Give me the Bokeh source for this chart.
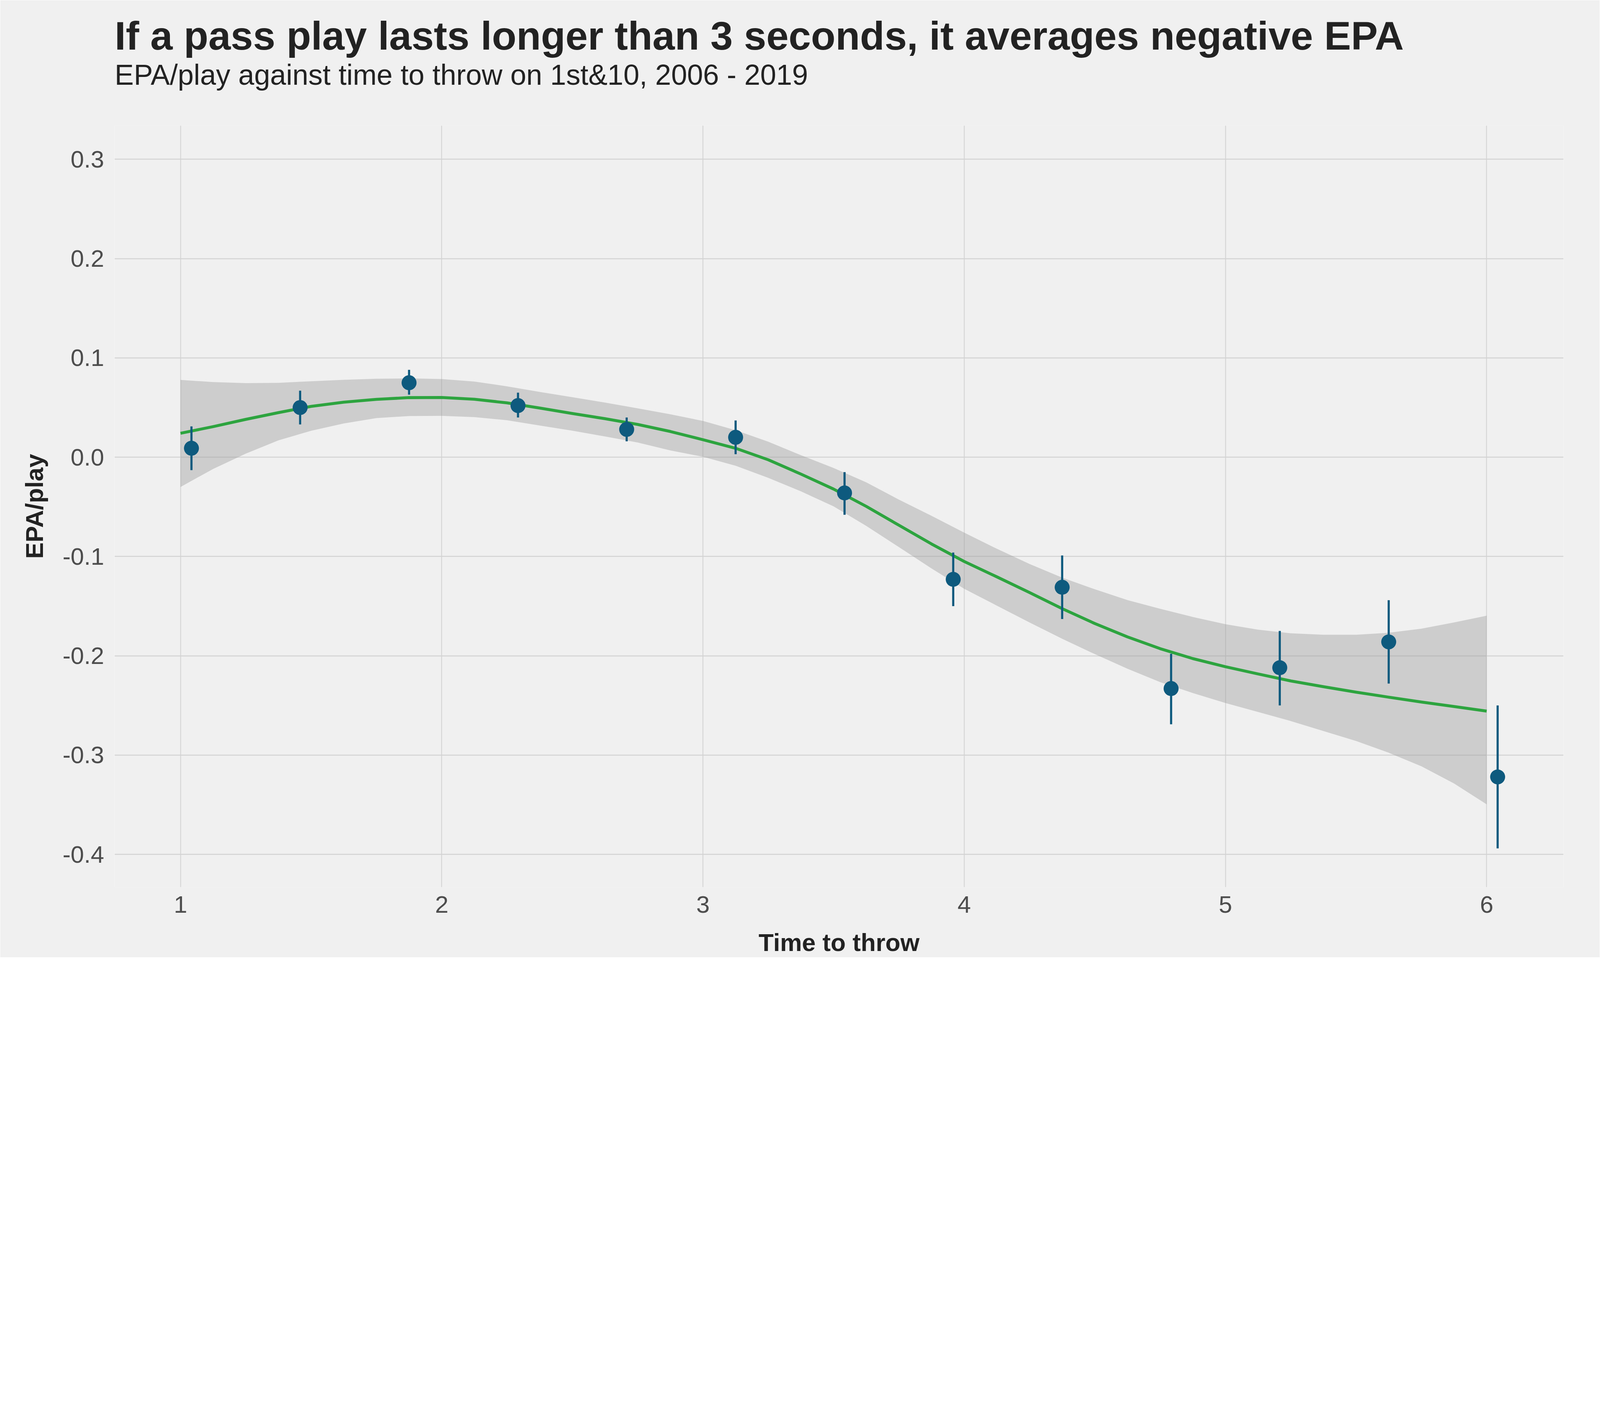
from bokeh.plotting import figure
from bokeh.models import Range1d, FixedTicker, PrintfTickFormatter, Title, ColumnDataSource
from bokeh.embed import file_html
from bokeh.resources import INLINE

# Binned means with error bars
time_to_throw = [1.042, 1.458, 1.875, 2.292, 2.708, 3.125, 3.542, 3.958, 4.375, 4.792, 5.208, 5.625, 6.042]
epa_per_play = [0.009, 0.050, 0.075, 0.052, 0.028, 0.020, -0.036, -0.123, -0.131, -0.233, -0.212, -0.186, -0.322]
epa_lower = [-0.013, 0.033, 0.063, 0.040, 0.016, 0.003, -0.058, -0.150, -0.163, -0.269, -0.250, -0.228, -0.394]
epa_upper = [0.031, 0.067, 0.088, 0.065, 0.040, 0.037, -0.015, -0.096, -0.099, -0.198, -0.175, -0.144, -0.250]

# Smoothed fit with confidence band
smooth_x = [1.0, 1.125, 1.25, 1.375, 1.5, 1.625, 1.75, 1.875, 2.0, 2.125, 2.25, 2.375, 2.5, 2.625,
            2.75, 2.875, 3.0, 3.125, 3.25, 3.375, 3.5, 3.625, 3.75, 3.875, 4.0, 4.125, 4.25, 4.375,
            4.5, 4.625, 4.75, 4.875, 5.0, 5.125, 5.25, 5.375, 5.5, 5.625, 5.75, 5.875, 6.0]
smooth_y = [0.0241, 0.0308, 0.0381, 0.0449, 0.0512, 0.0554, 0.0583, 0.0600, 0.0601, 0.0584, 0.0547, 0.0495,
            0.0440, 0.0388, 0.0330, 0.0259, 0.0176, 0.0090, -0.0026, -0.0170, -0.0321, -0.0495, -0.0685,
            -0.0874, -0.1050, -0.1205, -0.1363, -0.1525, -0.1675, -0.1810, -0.1928, -0.2028, -0.2110,
            -0.2183, -0.2253, -0.2311, -0.2366, -0.2417, -0.2466, -0.2511, -0.2557]
smooth_upper = [0.0778, 0.0757, 0.0746, 0.0749, 0.0765, 0.0779, 0.0790, 0.0794, 0.0787, 0.0762, 0.0714, 0.0657,
                0.0604, 0.0550, 0.0492, 0.0432, 0.0365, 0.0272, 0.0156, 0.0020, -0.0109, -0.0253, -0.0427,
                -0.0590, -0.0760, -0.0922, -0.1075, -0.1213, -0.1330, -0.1439, -0.1527, -0.1609, -0.1682,
                -0.1737, -0.1773, -0.1788, -0.1788, -0.1768, -0.1727, -0.1664, -0.1596]
smooth_lower = [-0.0300, -0.0118, 0.0036, 0.0170, 0.0266, 0.0340, 0.0394, 0.0415, 0.0417, 0.0404, 0.0372, 0.0319,
                0.0267, 0.0209, 0.0148, 0.0068, 0.0005, -0.0086, -0.0208, -0.0344, -0.0495, -0.0692, -0.0905,
                -0.1120, -0.1325, -0.1495, -0.1664, -0.1828, -0.1983, -0.2130, -0.2265, -0.2375, -0.2475,
                -0.2566, -0.2657, -0.2758, -0.2858, -0.2976, -0.3113, -0.3286, -0.3496]

x_ticks = [1, 2, 3, 4, 5, 6]
y_ticks = [-0.4, -0.3, -0.2, -0.1, 0.0, 0.1, 0.2, 0.3]

title_text = "If a pass play lasts longer than 3 seconds, it averages negative EPA"
subtitle_text = "EPA/play against time to throw on 1st&10, 2006 - 2019"
x_title = "Time to throw"
y_title = "EPA/play"

BG = "#F0F0F0"
FONT = "Liberation Sans"

# The page is photographed at a device pixel ratio of about 1.46, so CSS sizes are scaled down.
S = 1 / 1.4595
PAGE_W, PAGE_H = 6000 * S, 3600 * S
M = 8
W = int(round(PAGE_W - 2 * M))
H = int(round(PAGE_H - 2 * M))
F_LEFT, F_RIGHT, F_TOP, F_BOTTOM = 439 * S - M, 5853 * S - M, 480 * S - M, 3326 * S - M

def px(v):
    return f"{v * S:.1f}px"

p = figure(width=W, height=H, output_backend="svg", toolbar_location=None,
           x_range=Range1d(0.748, 6.294), y_range=Range1d(-0.433, 0.334),
           min_border_left=int(round(F_LEFT)), min_border_right=int(round(W - F_RIGHT)),
           min_border_top=int(round(F_TOP)), min_border_bottom=int(round(H - F_BOTTOM)))
p.title = None
p.background_fill_color = BG
p.border_fill_color = BG
p.outline_line_color = None

spacer = Title(text=" ", text_font_size="1px", standoff=125 * S, text_color=BG)
p.add_layout(spacer, "above")
sub = Title(text=subtitle_text, text_font=FONT, text_font_size=px(107), text_font_style="normal",
            text_color="#222222", align="left", standoff=0)
p.add_layout(sub, "above")
ttl = Title(text=title_text, text_font=FONT, text_font_size=px(150), text_font_style="bold",
            text_color="#222222", align="left", standoff=0, text_line_height=0.92)
p.add_layout(ttl, "above")

src_pts = ColumnDataSource(dict(x=time_to_throw, y=epa_per_play, lo=epa_lower, hi=epa_upper))
src_sm = ColumnDataSource(dict(x=smooth_x, y=smooth_y, lo=smooth_lower, hi=smooth_upper))

p.varea(x="x", y1="lo", y2="hi", source=src_sm, fill_color="#999999", fill_alpha=0.4)
p.line(x="x", y="y", source=src_sm, line_color="#2DA43F", line_width=11 * S, line_join="round")
p.segment(x0="x", y0="lo", x1="x", y1="hi", source=src_pts, line_color="#0E5A7E", line_width=8 * S)
p.scatter(x="x", y="y", source=src_pts, size=56 * S, fill_color="#0E5A7E", line_color=None)

for ax in (p.xaxis[0], p.yaxis[0]):
    ax.axis_line_color = None
    ax.major_tick_line_color = None
    ax.minor_tick_line_color = None
    ax.major_tick_in = 0
    ax.major_tick_out = 0
    ax.minor_tick_in = 0
    ax.minor_tick_out = 0
    ax.major_label_text_font = FONT
    ax.major_label_text_font_size = px(90)
    ax.major_label_text_color = "#4D4D4D"
    ax.axis_label_text_font = FONT
    ax.axis_label_text_font_size = px(92)
    ax.axis_label_text_font_style = "bold"
    ax.axis_label_text_color = "#222222"

p.xaxis[0].ticker = FixedTicker(ticks=x_ticks)
p.yaxis[0].ticker = FixedTicker(ticks=y_ticks)
p.yaxis[0].formatter = PrintfTickFormatter(format="%.1f")
p.xaxis[0].axis_label = x_title
p.yaxis[0].axis_label = y_title
p.xaxis[0].major_label_standoff = int(round(33 * S))
p.yaxis[0].major_label_standoff = int(round(39 * S))
p.xaxis[0].axis_label_standoff = int(round(55 * S))
p.yaxis[0].axis_label_standoff = int(round(50 * S))

p.xgrid[0].grid_line_color = "#D2D2D2"
p.xgrid[0].grid_line_width = 3 * S
p.ygrid[0].grid_line_color = "#D2D2D2"
p.ygrid[0].grid_line_width = 4 * S
p.xgrid[0].ticker = FixedTicker(ticks=x_ticks)
p.ygrid[0].ticker = FixedTicker(ticks=y_ticks)

open("out.html", "w").write(file_html(p, INLINE))
